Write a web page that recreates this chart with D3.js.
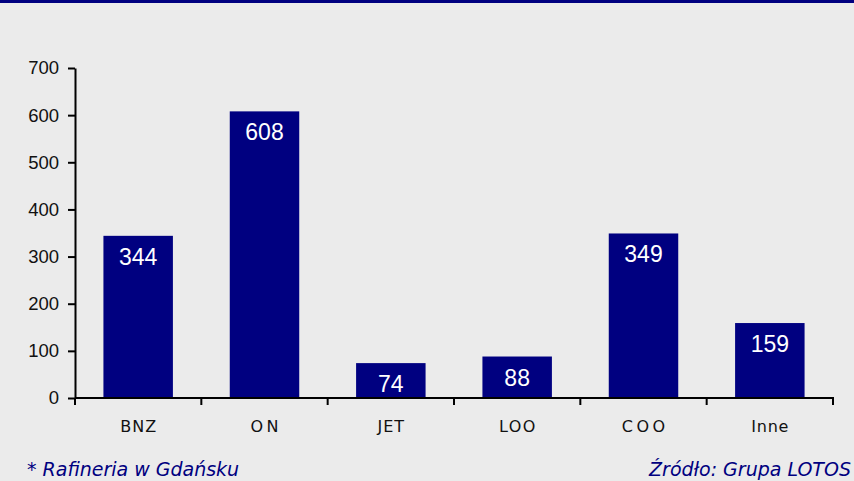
<!DOCTYPE html>
<html>
<head>
<meta charset="utf-8">
<script src="https://cdn.jsdelivr.net/npm/d3@7"></script>
<style>
  html, body { margin: 0; padding: 0; background: #ebebeb; }
  svg { display: block; }
</style>
</head>
<body>
<svg id="chart" width="854" height="481"></svg>
<script>
var categories = ["BNZ", "ON", "JET", "LOO", "COO", "Inne"];
var values = [344, 608, 74, 88, 349, 159];
var yTicks = [0, 100, 200, 300, 400, 500, 600, 700];
var footLeft = "* Rafineria w Gdańsku";
var footRight = "Źródło: Grupa LOTOS";

var BAR_COLOR = "#000080";
var TEXT_COLOR = "#111";
var FONT = "'DejaVu Sans', Verdana, sans-serif";
var NUM_FONT = "'Liberation Sans', Arial, sans-serif";

// the source renders the round-letter labels with a loose spacing
var catSpacing = function(label) {
  if (label === "ON" || label === "COO") return 3.5;
  if (label === "LOO") return 1.5;
  if (label === "Inne") return 0.8;
  return 1;
};

var svg = d3.select("#chart");
var W = 854, H = 481;

svg.append("rect").attr("width", W).attr("height", H).attr("fill", "#ebebeb");
// navy strip at the top
svg.append("rect").attr("width", W).attr("height", 3).attr("fill", BAR_COLOR);

var x = d3.scaleBand()
  .domain(categories)
  .range([75, 833])
  .paddingInner(0.45)
  .paddingOuter(0.225);

var y = d3.scaleLinear().domain([0, 700]).range([398, 68]);

// bars
svg.selectAll("rect.bar")
  .data(values)
  .enter().append("rect")
  .attr("class", "bar")
  .attr("x", function(d, i) { return x(categories[i]); })
  .attr("y", function(d) { return y(d); })
  .attr("width", x.bandwidth())
  .attr("height", function(d) { return y(0) - y(d); })
  .attr("fill", BAR_COLOR);

// value labels inside bars
svg.selectAll("text.val")
  .data(values)
  .enter().append("text")
  .attr("class", "val")
  .attr("x", function(d, i) { return x(categories[i]) + x.bandwidth() / 2; })
  .attr("y", function(d) { return y(d) + 29; })
  .attr("text-anchor", "middle")
  .attr("fill", "#fff")
  .style("font-family", NUM_FONT)
  .style("font-size", "23px")
  .text(function(d) { return d; });

// y axis
var yAxis = d3.axisLeft(y).tickValues(yTicks).tickSize(7).tickSizeOuter(0);
var gy = svg.append("g").attr("transform", "translate(75,0)").call(yAxis);
gy.select(".domain").attr("stroke", "#000").attr("stroke-width", 2);
gy.selectAll(".tick line").attr("stroke", "#000").attr("stroke-width", 2);
gy.selectAll(".tick text")
  .attr("x", -16)
  .attr("fill", TEXT_COLOR)
  .style("font-family", NUM_FONT)
  .style("font-size", "18.5px");

// x axis with ticks at the category boundaries
var bounds = d3.range(categories.length + 1).map(function(i) { return 75 + i * x.step(); });
svg.append("line")
  .attr("x1", 75).attr("x2", 834)
  .attr("y1", 398).attr("y2", 398)
  .attr("stroke", "#000").attr("stroke-width", 2);
svg.selectAll("line.xt")
  .data(bounds)
  .enter().append("line")
  .attr("class", "xt")
  .attr("x1", function(d) { return d; }).attr("x2", function(d) { return d; })
  .attr("y1", 398).attr("y2", 405)
  .attr("stroke", "#000").attr("stroke-width", 2);

svg.selectAll("text.cat")
  .data(categories)
  .enter().append("text")
  .attr("class", "cat")
  .attr("x", function(d) { return x(d) + x.bandwidth() / 2 + catSpacing(d) / 2; })
  .attr("y", 432)
  .attr("text-anchor", "middle")
  .attr("fill", TEXT_COLOR)
  .style("font-family", FONT)
  .style("font-size", "16px")
  .style("letter-spacing", function(d) { return catSpacing(d) + "px"; })
  .text(function(d) { return d; });

// footer notes
svg.append("text")
  .attr("x", 27).attr("y", 476)
  .attr("fill", BAR_COLOR)
  .style("font-family", FONT)
  .style("font-style", "italic")
  .style("font-size", "19px")
  .text(footLeft);

svg.append("text")
  .attr("x", 851).attr("y", 476)
  .attr("text-anchor", "end")
  .attr("fill", BAR_COLOR)
  .style("font-family", FONT)
  .style("font-style", "italic")
  .style("font-size", "19px")
  .text(footRight);
</script>
</body>
</html>
